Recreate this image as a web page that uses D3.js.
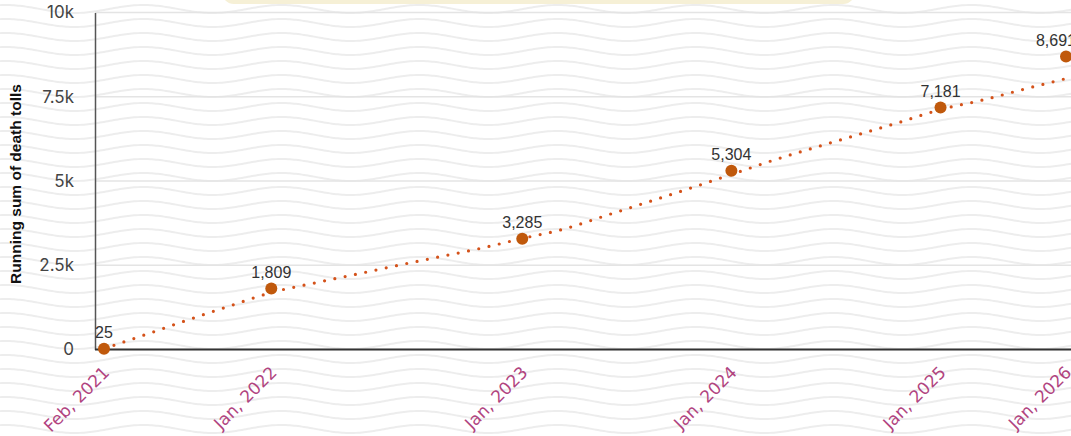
<!DOCTYPE html>
<html><head><meta charset="utf-8">
<script src="https://cdn.jsdelivr.net/npm/d3@7"></script>
<style>body{margin:0;background:#fff;overflow:hidden} svg{display:block}</style>
</head><body>
<svg id="chart" width="1071" height="436"></svg>
<script>
// ---- data ----
const months = ["Feb, 2021","Apr, 2021","Jul, 2021","Oct, 2021","Jan, 2022","Mar, 2022","May, 2022","Jun, 2022","Aug, 2022","Oct, 2022","Jan, 2023","Mar, 2023","May, 2023","Aug, 2023","Oct, 2023","Jan, 2024","Mar, 2024","May, 2024","Aug, 2024","Oct, 2024","Jan, 2025","May, 2025","Sep, 2025","Jan, 2026"];
const trendValues = [25,445,875,1290,1690,1965,2225,2490,2745,3000,3295,3575,3975,4375,4780,5195,5615,5995,6365,6735,7120,7400,7725,8040];
const markerMonths = ["Feb, 2021","Jan, 2022","Jan, 2023","Jan, 2024","Jan, 2025","Jan, 2026"];
const markerValues = [25,1809,3285,5304,7181,8691];
const yTicks = [0,2500,5000,7500,10000];
const yTickLabels = ["0","2.5k","5k","7.5k","10k"];
const yTitle = "Running sum of death tolls";

// ---- layout ----
const W = 1071, H = 436;
const axisX = 95, axisY = 349.5, topY = 12.5;
const svg = d3.select("#chart");

// background wave pattern
const defs = svg.append("defs");
const pw = 138, ph = 14;
const pat = defs.append("pattern").attr("id","waves").attr("patternUnits","userSpaceOnUse")
  .attr("width",pw).attr("height",ph).attr("x",40).attr("y",2);
const wavePts = d3.range(0, pw+1, 2).map(t => [t, ph/2 + 4*Math.sin(2*Math.PI*t/pw)]);
pat.append("path").attr("d", d3.line()(wavePts)).attr("fill","none").attr("stroke","#ededed").attr("stroke-width",2);
svg.append("rect").attr("width",W).attr("height",H).attr("fill","#fff");
svg.append("rect").attr("width",W).attr("height",H).attr("fill","url(#waves)");

// top yellow box (cut off)
svg.append("rect").attr("x",222).attr("y",-30).attr("width",633).attr("height",34).attr("rx",12)
  .attr("fill","#f6f0d6");

// scales
const x = d3.scalePoint().domain(months).range([104, 1066]);
const y = d3.scaleLinear().domain([0,10000]).range([axisY, topY]);

// gridlines
svg.append("g").selectAll("line").data(yTicks).join("line")
  .attr("x1",axisX).attr("x2",W).attr("y1",d=>y(d)).attr("y2",d=>y(d))
  .attr("stroke","#e4e4e4").attr("stroke-width",1.5);

// y axis
const yAxis = svg.append("g").attr("transform",`translate(${axisX},0)`)
  .call(d3.axisLeft(y).tickValues(yTicks).tickFormat((d,i)=>yTickLabels[i]).tickSize(0).tickPadding(21));
yAxis.select(".domain").attr("stroke","#555").attr("stroke-width",1.5);
yAxis.selectAll("text").attr("font-family","Inter, 'Noto Sans', sans-serif").attr("font-size",17).attr("fill","#444");

// x axis
const xAxis = svg.append("g").attr("transform",`translate(0,${axisY})`)
  .call(d3.axisBottom(x).tickValues(markerMonths).tickSize(0));
xAxis.select(".domain").remove();
xAxis.selectAll("text")
  .attr("x",0).attr("y",0).attr("dy",0)
  .attr("text-anchor","end")
  .attr("transform","translate(6,24) rotate(-45)")
  .attr("font-family","'DejaVu Sans', sans-serif").attr("font-size",17).attr("fill","#b1447f");
svg.append("line").attr("x1",axisX).attr("x2",W).attr("y1",axisY).attr("y2",axisY)
  .attr("stroke","#333").attr("stroke-width",1.8);

// y title
svg.append("text").attr("transform",`translate(21,184) rotate(-90)`)
  .attr("text-anchor","middle").attr("font-family","'Liberation Sans', Arial, sans-serif")
  .attr("font-weight","bold").attr("font-size",15.5).attr("fill","#111").text(yTitle);

// trend dotted line
svg.append("path").datum(trendValues)
  .attr("d", d3.line().x((d,i)=>x(months[i])).y(d=>y(d)).curve(d3.curveMonotoneX))
  .attr("fill","none").attr("stroke","#d4521a").attr("stroke-width",3.2)
  .attr("stroke-linecap","round").attr("stroke-dasharray","0 10.5");

// markers
svg.append("g").selectAll("circle").data(markerValues).join("circle")
  .attr("cx",(d,i)=>x(markerMonths[i])).attr("cy",d=>y(d)).attr("r",6).attr("fill","#c0590c");

// value labels (nudged inward near the right edge)
svg.append("g").selectAll("text").data(markerValues).join("text")
  .attr("x",(d,i)=>Math.min(x(markerMonths[i]), W - 15)).attr("y",d=>y(d)-11)
  .attr("text-anchor","middle").attr("font-family","'Liberation Sans', Arial, sans-serif")
  .attr("font-size",16).attr("fill","#333").text(d=>d3.format(",")(d));
</script>
</body></html>
